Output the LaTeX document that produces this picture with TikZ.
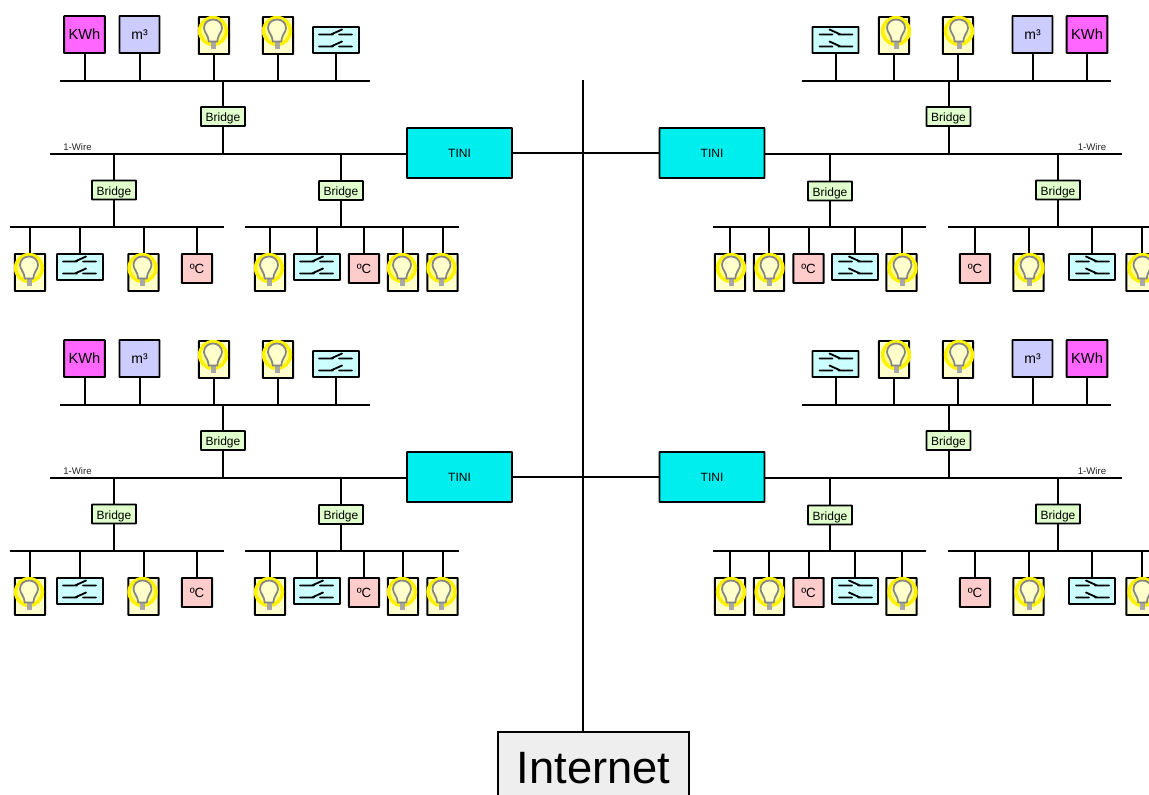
\documentclass[tikz,border=0pt]{standalone}
\usepackage{fontspec}
\setmainfont{Liberation Sans}
\definecolor{kwhc}{HTML}{FF66FF}
\definecolor{volc}{HTML}{CCCCFF}
\definecolor{lampc}{HTML}{FFFFCC}
\definecolor{swc}{HTML}{CCFFFF}
\definecolor{tempc}{HTML}{FFCCCC}
\definecolor{brc}{HTML}{E0FFCC}
\definecolor{tinic}{HTML}{00EEEE}
\definecolor{netc}{HTML}{EEEEEE}
\definecolor{bulbc}{HTML}{858585}
\definecolor{basec}{HTML}{A8A8A8}
\definecolor{haloc}{HTML}{FFFF88}
\definecolor{glassc}{HTML}{FFFFCC}
\tikzset{
  devbox/.style={draw=black,line width=1.4pt,inner sep=0pt,rounded corners=0.3pt,text=black},
  kwhbox/.style={devbox,fill=kwhc,minimum width=30.5pt,minimum height=27.75pt,font=\fontsize{11}{11}\selectfont},
  volbox/.style={devbox,fill=volc,minimum width=30pt,minimum height=27.75pt,font=\fontsize{10.5}{11}\selectfont},
  lampbox/.style={devbox,fill=lampc,minimum width=22.75pt,minimum height=27.75pt},
  swbox/.style={devbox,fill=swc,minimum width=34.5pt,minimum height=19.5pt},
  tempbox/.style={devbox,fill=tempc,minimum width=22.75pt,minimum height=21.75pt,font=\fontsize{10}{11}\selectfont},
  bridgebox/.style={devbox,fill=brc,minimum width=33pt,minimum height=14.25pt,text height=8.4pt,text depth=0.6pt,font=\fontsize{9}{10}\selectfont},
  tinibox/.style={devbox,fill=tinic,minimum width=78.75pt,minimum height=37.5pt,font=\fontsize{9}{10}\selectfont},
  netbox/.style={draw=black,line width=1.1pt,fill=netc,inner sep=0pt,minimum width=143pt,minimum height=54pt,font=\fontsize{34}{36}\selectfont},
  wirelabel/.style={font=\fontsize{7.2}{8}\selectfont,inner sep=0pt,text=black!85},
  wire/.style={line width=1.5pt,draw=black},
  buswire/.style={line width=1.5pt,draw=black},
  glow/.style={fill=haloc,draw=yellow,line width=2.6pt},
  bulbline/.style={draw=bulbc,line width=1.3pt,fill=glassc},
  swline/.style={draw=black,line width=1.4pt,line cap=round},
}
% device with a vertical connector to a bus; \anc is the side facing the bus
\newcommand{\lampdev}[5]{% name, x, y, bus, glow offset
  \node[lampbox] (#1) at (#2,#3) {};
  \begin{scope}[shift={(#2+#5,#3-4.5)}]
    \draw[glow] (0,0) circle (13.4);
    \fill[basec] (-2.5,11) rectangle (2.5,17.5);
    \draw[bulbline] (-4.2,10.5) .. controls (-4.6,4) and (-9,1) .. (-9,-3)
      .. controls (-9,-8.5) and (-4.5,-11.5) .. (0,-11.5)
      .. controls (4.5,-11.5) and (9,-8.5) .. (9,-3)
      .. controls (9,1) and (4.6,4) .. (4.2,10.5) -- cycle;
  \end{scope}
  \draw[wire] (#1.\anc) -- (#1.\anc |- #4);
}
\newcommand{\plaindev}[6]{% style, name, x, y, text, bus
  \node[#1] (#2) at (#3,#4) {#5};
  \draw[wire] (#2.\anc) -- (#2.\anc |- #6);
}
\newcommand{\swdev}[5]{% name, x, y, bus, direction (1 or -1)
  \node[swbox] (#1) at (#2,#3) {};
  \begin{scope}[shift={(#2,#3)},xscale=#5]
    \draw[swline] (-17,-5.5) -- (-3,-5.5) (-5,-5.5) -- (6,-10.5) (3,-5.5) -- (16,-5.5);
    \draw[swline] (-17,6.5) -- (-3,6.5) (-5,6.5) -- (6,1.5) (3,6.5) -- (16,6.5);
  \end{scope}
  \draw[wire] (#1.\anc) -- (#1.\anc |- #4);
}
\newcommand{\lan}[2]{% prefix, dy
 \begin{scope}[shift={(0,#2)}]
  % ---- left network
  \coordinate (#1Lt) at (60,80.5); \coordinate (#1Ltr) at (370,80.5);
  \draw[buswire] (#1Lt) -- (#1Ltr);
  \coordinate (#1La) at (10,227); \coordinate (#1Lar) at (224,227);
  \draw[buswire] (#1La) -- (#1Lar);
  \coordinate (#1Lb) at (245,227); \coordinate (#1Lbr) at (459,227);
  \draw[buswire] (#1Lb) -- (#1Lbr);
  \node[tinibox] (#1TL) at (459.5,153) {TINI};
  \coordinate (#1Lw) at (50,154);
  \draw[buswire] (#1Lw) -- (#1Lw -| #1TL.west);
  \node[wirelabel] (#1Lwl) at (77.5,147.5) {1-Wire};
  \node[bridgebox] (#1Br1) at (223,116.5) {Bridge};
  \draw[wire] (#1Br1.north) -- (#1Br1.north |- #1Lt);
  \draw[wire] (#1Br1.south) -- (#1Br1.south |- #1Lw);
  \node[bridgebox] (#1Br2) at (114,190) {Bridge};
  \draw[wire] (#1Br2.north) -- (#1Br2.north |- #1Lw);
  \draw[wire] (#1Br2.south) -- (#1Br2.south |- #1La);
  \node[bridgebox] (#1Br3) at (341,190.5) {Bridge};
  \draw[wire] (#1Br3.north) -- (#1Br3.north |- #1Lw);
  \draw[wire] (#1Br3.south) -- (#1Br3.south |- #1Lb);
  \def\anc{south}
  \plaindev{kwhbox}{#1La1}{84.5}{34.5}{KWh}{#1Lt}
  \plaindev{volbox}{#1La2}{139.5}{34.5}{m³}{#1Lt}
  \lampdev{#1La3}{214}{35.5}{#1Lt}{-1}
  \lampdev{#1La4}{278}{35.5}{#1Lt}{-1}
  \swdev{#1La5}{336}{40}{#1Lt}{1}
  \def\anc{north}
  \lampdev{#1Lb1}{30}{272.5}{#1La}{-1}
  \swdev{#1Lb2}{80}{267}{#1La}{1}
  \lampdev{#1Lb3}{143.5}{272.5}{#1La}{-1}
  \plaindev{tempbox}{#1Lb4}{197}{268.5}{ºC}{#1La}
  \lampdev{#1Lc1}{270}{272.5}{#1Lb}{-1}
  \swdev{#1Lc2}{317}{267}{#1Lb}{1}
  \plaindev{tempbox}{#1Lc3}{364}{268.5}{ºC}{#1Lb}
  \lampdev{#1Lc4}{403}{272.5}{#1Lb}{-1}
  \lampdev{#1Lc5}{442.5}{272.5}{#1Lb}{-1}
  % ---- right network
  \coordinate (#1Rt) at (802,80.5); \coordinate (#1Rtr) at (1111,80.5);
  \draw[buswire] (#1Rt) -- (#1Rtr);
  \coordinate (#1Ra) at (713,227); \coordinate (#1Rar) at (926,227);
  \draw[buswire] (#1Ra) -- (#1Rar);
  \coordinate (#1Rb) at (948,227); \coordinate (#1Rbr) at (1160,227);
  \draw[buswire] (#1Rb) -- (#1Rbr);
  \node[tinibox] (#1TR) at (712,153) {TINI};
  \coordinate (#1Rw) at (1122,154);
  \draw[buswire] (#1Rw) -- (#1Rw -| #1TR.east);
  \node[wirelabel] (#1Rwl) at (1092,147.5) {1-Wire};
  \draw[buswire] (#1TL.east) -- (#1TR.west);
  \node[bridgebox] (#1Br4) at (948.5,116.5) {Bridge};
  \draw[wire] (#1Br4.north) -- (#1Br4.north |- #1Rt);
  \draw[wire] (#1Br4.south) -- (#1Br4.south |- #1Rw);
  \node[bridgebox] (#1Br5) at (830,191) {Bridge};
  \draw[wire] (#1Br5.north) -- (#1Br5.north |- #1Rw);
  \draw[wire] (#1Br5.south) -- (#1Br5.south |- #1Ra);
  \node[bridgebox] (#1Br6) at (1058,190) {Bridge};
  \draw[wire] (#1Br6.north) -- (#1Br6.north |- #1Rw);
  \draw[wire] (#1Br6.south) -- (#1Br6.south |- #1Rb);
  \def\anc{south}
  \swdev{#1Ra1}{835.5}{40}{#1Rt}{-1}
  \lampdev{#1Ra2}{894}{35.5}{#1Rt}{2}
  \lampdev{#1Ra3}{958}{35.5}{#1Rt}{1}
  \plaindev{volbox}{#1Ra4}{1032.5}{34.5}{m³}{#1Rt}
  \plaindev{kwhbox}{#1Ra5}{1087}{34.5}{KWh}{#1Rt}
  \def\anc{north}
  \lampdev{#1Rb1}{730}{272.5}{#1Ra}{1}
  \lampdev{#1Rb2}{769}{272.5}{#1Ra}{0.5}
  \plaindev{tempbox}{#1Rb3}{808.5}{268.5}{ºC}{#1Ra}
  \swdev{#1Rb4}{855}{267}{#1Ra}{-1}
  \lampdev{#1Rb5}{901.5}{272.5}{#1Ra}{1}
  \plaindev{tempbox}{#1Rc1}{975}{268.5}{ºC}{#1Rb}
  \lampdev{#1Rc2}{1028.5}{272.5}{#1Rb}{1}
  \swdev{#1Rc3}{1092}{267}{#1Rb}{-1}
  \lampdev{#1Rc4}{1141.5}{272.5}{#1Rb}{1}
 \end{scope}
}
\begin{document}
\begin{tikzpicture}[x=0.75pt,y=-0.75pt]
  \clip (0,0) rectangle (1149,794);
  \fill[white] (0,0) rectangle (1149,794);
  \node[netbox] (net) at (593.5,768) {Internet};
  \coordinate (trunk) at (583,80);
  \draw[wire] (trunk) -- (trunk |- net.north);
  \lan{A}{0}
  \lan{B}{324}
\end{tikzpicture}
\end{document}
